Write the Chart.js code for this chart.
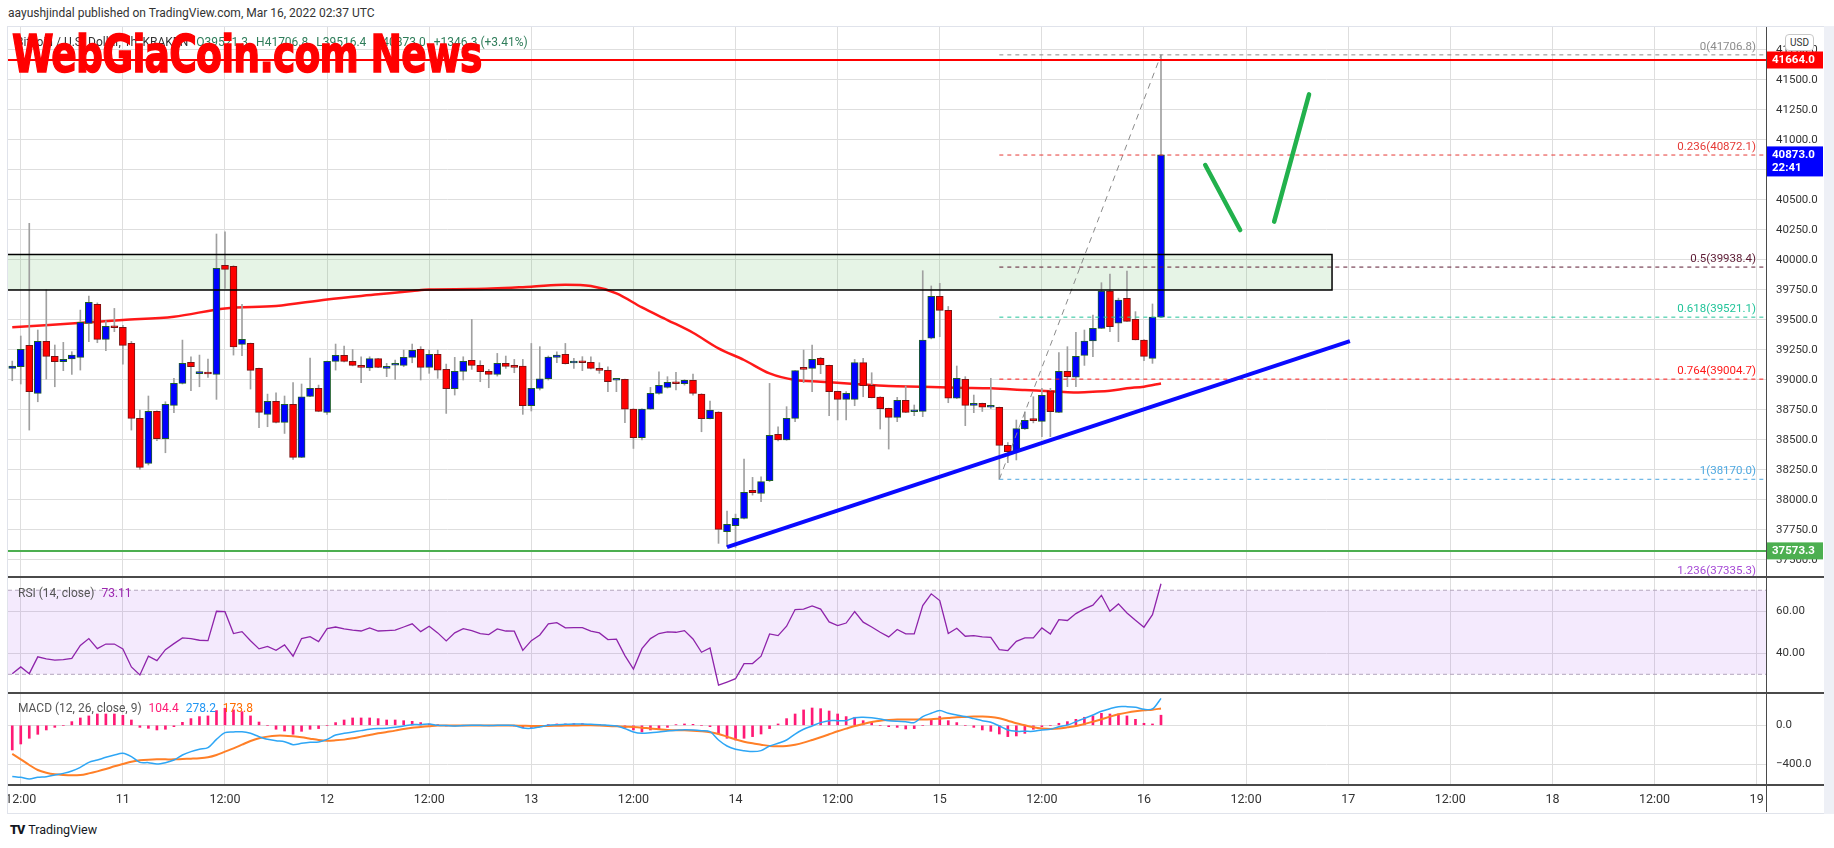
<!DOCTYPE html>
<html>
<head>
<meta charset="utf-8">
<title>BTCUSD 1h</title>
<script src="https://cdn.jsdelivr.net/npm/chart.js@4.4.1/dist/chart.umd.min.js"></script>
<style>
  html, body { margin: 0; padding: 0; background: #fff; }
  body { position: relative; width: 1834px; height: 848px; overflow: hidden; font-family: Roboto, "Open Sans", sans-serif; color: #333; }
  .abs { position: absolute; white-space: nowrap; }
  canvas { position: absolute; left: 8px; }
  #frame { left: 7px; top: 26px; width: 1818px; height: 788px; border: 1px solid #e0e3eb; box-sizing: border-box; }
  #strip { left: 1824px; top: 26px; width: 10px; height: 788px; background: #eef0f6; }
  .sep { left: 8px; width: 1816px; height: 2px; background: #4a4a4a; }
  #vaxis { left: 1766px; top: 27px; width: 1px; height: 785px; background: #4a4a4a; }
  #title { left: 8px; top: 6px; font-size: 12px; color: #333; }
  #legend { left: 16px; top: 35px; font-size: 12px; color: #333; }
  #legend b { font-weight: normal; color: #2f7d5a; margin-left: 5px; }
  #mark { left: 12px; top: 24px; font-family: "DejaVu Sans Condensed", "DejaVu Sans", sans-serif; font-weight: bold; font-size: 54px; color: #ff0000; -webkit-text-stroke: 1.5px #ff0000; transform-origin: 0 0; letter-spacing: -1px; }
  .pane { font-size: 12px; color: #555; }
  #usd { left: 1785px; top: 34px; width: 27px; height: 15px; border: 1px solid #c8c8c8; border-radius: 4px; background: #fff; font-size: 10px; line-height: 15px; text-align: center; color: #333; }
  #tv { left: 10px; top: 822px; font-size: 12.5px; color: #131722; }
  #tv span { font-weight: 900; margin-right: 4px; letter-spacing: -1px; }
</style>
</head>
<body>
<div class="abs" id="frame"></div>
<div class="abs" id="strip"></div>
<div class="abs" id="title">aayushjindal published on TradingView.com, Mar 16, 2022 02:37 UTC</div>

<canvas id="main" width="1816" height="550" style="top:27px"></canvas>
<canvas id="rsi" width="1816" height="116" style="top:577px"></canvas>
<canvas id="macd" width="1816" height="119" style="top:693px"></canvas>

<div class="abs sep" style="top:576px"></div>
<div class="abs sep" style="top:692px"></div>
<div class="abs sep" style="top:784px"></div>
<div class="abs" id="vaxis"></div>

<div class="abs" id="legend">Bitcoin / U.S. Dollar, 1h, KRAKEN <b>O39521.3</b> <b>H41706.8</b> <b>L39516.4</b> <b>C40873.0</b> <b>+1346.3 (+3.41%)</b></div>
<div class="abs pane" style="left:18px; top:586px">RSI (14, close) <span style="color:#9c27b0; margin-left:4px">73.11</span></div>
<div class="abs pane" style="left:18px; top:701px">MACD (12, 26, close, 9) <span style="color:#ff1a75; margin-left:4px">104.4</span> <span style="color:#2196f3; margin-left:4px">278.2</span> <span style="color:#ff6d00; margin-left:4px">173.8</span></div>
<div class="abs" id="usd">USD</div>
<div class="abs" id="mark">WebGiaCoin.com News</div>
<div class="abs" id="tv"><span>TV</span>TradingView</div>

<script>
// hours counted from Mar 10 00:00 UTC, first candle is Mar 10 11:00
const firstHour = 11;

const opens = [
  39094, 39108, 39286, 38886, 39319, 39194, 39150, 39172, 39186, 39469,
  39628, 39336, 39447, 39436, 39302, 38677, 38302, 38736, 38508, 38786,
  38969, 39144, 39050, 39052, 39044, 39953, 39944, 39294, 39302, 39094,
  38711, 38819, 38644, 38794, 38352, 38861, 38927, 38727, 39152, 39202,
  39152, 39119, 39097, 39175, 39094, 39120, 39119, 39186, 39252, 39102,
  39211, 39086, 38925, 39069, 39161, 39119, 39069, 39044, 39136, 39111,
  39114, 38783, 38927, 39008, 39186, 39211, 39139, 39145, 39144, 39094,
  39077, 38995, 39002, 38755, 38516, 38755, 38886, 38936, 38977, 38966,
  38994, 38880, 38675, 38730, 37733, 37783, 37844, 38077, 38052, 38158,
  38544, 38497, 38677, 39102, 39094, 39178, 39119, 38903, 38836, 38836,
  39142, 38953, 38856, 38761, 38686, 38828, 38733, 38736, 39345, 39695,
  39578, 38845, 39003, 38786, 38803, 38770, 38770, 38453, 38406, 38589,
  38675, 38653, 38908, 38728, 39070, 39020, 39203, 39322, 39428, 39739,
  39470, 39678, 39503, 39331, 39178, 39521.3
];
const highs = [
  39155, 39364, 40303, 39414, 39752, 39289, 39311, 39233, 39580, 39697,
  39640, 39491, 39594, 39452, 39319, 38747, 38864, 38740, 38816, 39011,
  39330, 39191, 39205, 39172, 40214, 40233, 39950, 39628, 39305, 39097,
  38880, 38891, 38864, 38975, 38964, 39180, 38955, 39155, 39297, 39280,
  39252, 39191, 39191, 39178, 39136, 39164, 39247, 39297, 39275, 39247,
  39247, 39130, 39186, 39191, 39502, 39158, 39086, 39219, 39197, 39169,
  39169, 39302, 39275, 39197, 39233, 39302, 39177, 39192, 39191, 39141,
  39108, 38997, 39005, 38758, 38758, 38936, 39066, 39025, 39061, 39000,
  39047, 38883, 38822, 38733, 37905, 37880, 38338, 38186, 38190, 38969,
  38608, 38775, 39075, 39247, 39289, 39185, 39122, 38905, 38900, 39169,
  39178, 39058, 38858, 38763, 38853, 38947, 38789, 39908, 39781, 39803,
  39610, 39114, 39025, 38872, 38805, 39011, 38772, 38475, 38664, 38733,
  38858, 38928, 38928, 39225, 39275, 39395, 39414, 39539, 39808, 39881,
  39680, 39906, 39567, 39335, 39631, 41706.8
];
const lows = [
  38991, 38964, 38580, 38816, 39005, 38941, 39075, 39044, 39080, 39316,
  39308, 39241, 39400, 39130, 38580, 38252, 38289, 38491, 38391, 38725,
  38964, 38908, 38941, 39019, 38836, 39761, 39205, 39200, 38922, 38600,
  38608, 38640, 38552, 38336, 38350, 38858, 38733, 38711, 39080, 39148,
  39115, 38975, 39075, 39100, 39025, 39002, 39108, 39141, 38997, 39053,
  39011, 38719, 38872, 38997, 39086, 38983, 38933, 39030, 39094, 39058,
  38711, 38739, 38914, 38997, 39141, 39130, 39094, 39075, 39090, 39053,
  38900, 38900, 38641, 38427, 38497, 38752, 38880, 38930, 38914, 38955,
  38870, 38566, 38672, 37636, 37608, 37602, 37840, 38038, 37983, 38150,
  38490, 38495, 38650, 38975, 38900, 39050, 38700, 38664, 38664, 38783,
  38858, 38848, 38589, 38422, 38650, 38725, 38700, 38692, 39340, 39358,
  38808, 38842, 38617, 38725, 38735, 38760, 38170, 38308, 38331, 38585,
  38640, 38525, 38525, 38725, 38942, 38942, 39119, 39192, 39425, 39400,
  39317, 39486, 39331, 39158, 39136, 39516.4
];
const closes = [
  39114, 39252, 38900, 39319, 39194, 39150, 39169, 39205, 39478, 39644,
  39336, 39444, 39433, 39286, 38677, 38269, 38736, 38508, 38794, 38969,
  39136, 39108, 39055, 39047, 39928, 39919, 39272, 39336, 39077, 38727,
  38819, 38644, 38794, 38352, 38858, 38927, 38736, 39152, 39202, 39152,
  39119, 39102, 39175, 39102, 39111, 39124, 39186, 39244, 39102, 39211,
  39080, 38925, 39069, 39152, 39119, 39066, 39044, 39136, 39111, 39102,
  38783, 38927, 39008, 39189, 39205, 39133, 39143, 39141, 39094, 39077,
  38983, 38999, 38755, 38516, 38755, 38886, 38952, 38977, 38966, 38994,
  38886, 38675, 38747, 37752, 37794, 37844, 38061, 38058, 38150, 38536,
  38497, 38677, 39075, 39086, 39169, 39122, 38900, 38836, 38886, 39142,
  38950, 38850, 38758, 38686, 38828, 38728, 38738, 39331, 39695, 39578,
  38845, 39011, 38786, 38803, 38770, 38775, 38453, 38400, 38592, 38661,
  38658, 38869, 38733, 39070, 39025, 39194, 39322, 39428, 39739, 39442,
  39664, 39486, 39331, 39194, 39521, 40873.0
];

// moving average, read at a few hours
const maHours = [11, 24, 30, 36, 42, 48, 54, 58, 60, 65, 72, 76, 79, 82, 85, 88, 91, 94, 97, 100,
  103, 106, 110, 114, 118, 122, 126, 130, 134, 136, 138, 140, 142, 144, 146];
const maValues = [39436, 39497, 39525, 39594, 39614, 39669, 39711, 39739, 39752, 39755, 39775, 39791, 39780, 39719,
  39602, 39497, 39391, 39261, 39164, 39052, 38997, 38983, 38964, 38947, 38942, 38933, 38928, 38914,
  38900, 38894, 38900, 38908, 38928, 38942, 38969];

const rsi = [
  30.3, 33.5, 30.3, 38.3, 37.3, 36.7, 37.0, 37.6, 43.7, 47.0,
  42.2, 44.4, 44.4, 42.1, 33.5, 29.7, 38.6, 36.5, 41.7, 44.6,
  47.3, 47.0, 46.2, 46.0, 60.0, 59.8, 49.4, 50.3, 46.0, 42.1,
  43.3, 41.4, 44.0, 38.6, 47.0, 47.9, 45.6, 51.7, 52.5, 51.6,
  51.0, 50.6, 52.1, 50.6, 50.8, 51.0, 52.5, 54.0, 50.3, 52.9,
  49.7, 45.9, 49.7, 51.7, 50.8, 49.4, 48.9, 51.6, 50.6, 50.5,
  41.4, 46.0, 48.7, 54.0, 54.6, 52.1, 52.2, 52.2, 50.5, 49.7,
  46.5, 46.7, 38.9, 32.5, 42.2, 47.0, 49.4, 50.2, 50.0, 50.8,
  46.8, 40.5, 42.5, 24.8, 26.3, 27.9, 35.1, 35.1, 38.6, 49.2,
  48.4, 52.9, 60.8, 61.0, 62.5, 61.0, 54.9, 53.2, 54.4, 59.8,
  54.8, 52.5, 50.0, 47.8, 51.3, 49.2, 49.2, 62.7, 68.3, 65.1,
  49.4, 51.9, 48.1, 48.4, 47.8, 47.6, 41.7, 41.3, 45.7, 47.3,
  47.3, 52.1, 49.2, 56.0, 55.6, 58.9, 61.1, 62.9, 67.6, 60.0,
  63.5, 59.2, 55.7, 52.4, 58.4, 73.11
];

const macd = [
  -528, -538, -555, -538, -531, -514, -497, -472, -434, -383,
  -359, -331, -307, -290, -324, -383, -386, -400, -386, -359,
  -307, -272, -248, -231, -145, -76, -69, -66, -83, -117,
  -145, -159, -169, -200, -186, -176, -172, -145, -100, -83,
  -69, -55, -41, -34, -31, -21, -7, 7, 7, 14,
  0, -3, -7, -3, 0, 0, -3, 0, 0, -3,
  -28, -31, -17, 0, 7, 10, 14, 14, 10, 7,
  0, -7, -34, -69, -83, -76, -69, -59, -52, -45,
  -48, -55, -66, -152, -214, -248, -262, -272, -262, -214,
  -186, -152, -90, -41, -7, 28, 48, 48, 48, 79,
  83, 79, 66, 48, 41, 38, 28, 90, 124, 152,
  124, 107, 90, 69, 48, 31, -7, -48, -62, -62,
  -62, -48, -41, -14, 3, 38, 72, 107, 145, 172,
  193, 193, 186, 166, 169, 278.2
];
const signal = [
  -295, -352, -410, -462, -490, -507, -514, -517, -514, -497,
  -476, -452, -424, -400, -376, -362, -355, -352, -352, -352,
  -348, -345, -341, -331, -307, -272, -238, -200, -162, -134,
  -117, -107, -107, -114, -124, -138, -152, -159, -155, -148,
  -134, -117, -100, -83, -69, -55, -38, -24, -17, -10,
  -3, -3, -3, -3, -2, -2, -2, -2, -2, -3,
  -5, -7, -7, -7, -5, -3, -2, 0, 0, -3,
  -7, -10, -14, -17, -24, -34, -41, -48, -52, -52,
  -55, -62, -72, -90, -117, -145, -169, -186, -200, -214,
  -217, -214, -200, -179, -152, -124, -93, -62, -34, -7,
  14, 34, 48, 55, 59, 59, 59, 59, 62, 69,
  76, 83, 86, 90, 90, 86, 72, 48, 21, 0,
  -21, -34, -38, -34, -21, -7, 14, 38, 62, 90,
  114, 131, 145, 155, 162, 173.8
];
const hist = [
  -255, -193, -134, -93, -48, -21, 0, 38, 76, 97,
  117, 117, 117, 103, 55, -21, -31, -48, -41, -14,
  31, 69, 90, 97, 152, 176, 159, 141, 97, 34,
  0, -41, -59, -93, -62, -41, -34, 0, 28, 55,
  76, 76, 76, 69, 55, 55, 48, 41, 28, 14,
  7, -7, -7, -3, 0, 0, -3, 0, 0, -7,
  -24, -21, -7, 7, 14, 14, 17, 17, 10, 10,
  -3, -7, -28, -48, -69, -48, -34, -21, 7, 14,
  10, 0, -14, -90, -134, -152, -134, -117, -90, -34,
  14, 69, 117, 159, 179, 172, 148, 117, 90, 83,
  48, 28, 0, -14, -21, -38, -34, 0, 55, 90,
  48, 28, 0, -21, -48, -62, -90, -117, -110, -83,
  -41, -14, 0, 21, 38, 62, 83, 97, 124, 117,
  117, 97, 62, 21, 14, 104.4
];

// time axis
const timeTicks = [12, 24, 36, 48, 60, 72, 84, 96, 108, 120, 132, 144, 156, 168, 180, 192, 204, 216];
const timeLabels = ['12:00', '11', '12:00', '12', '12:00', '13', '12:00', '14', '12:00', '15', '12:00', '16', '12:00', '17', '12:00', '18', '12:00', '19'];
const priceTicks = [37500, 37750, 38000, 38250, 38500, 38750, 39000, 39250, 39500, 39750, 40000, 40250, 40500, 40750, 41000, 41250, 41500, 41750];
const rsiTicks = [40, 60];
const macdTicks = [-400, 0];

// drawings
const resistance = 41664.0;
const support = 37573.3;
const zoneTop = 40044, zoneBottom = 39747, zoneEnd = 166.1;
const fibRatios = ['0', '0.236', '0.5', '0.618', '0.764', '1', '1.236'];
const fibPrices = [41706.8, 40872.1, 39938.4, 39521.1, 39004.7, 38170.0, 37335.3];
const fibStart = 127, fibEnd = 146;
const trendLine = [[95.0, 37605], [168.2, 39322]];
const arrowDown = [[151.2, 40789], [155.3, 40247]];
const arrowUp = [[159.3, 40317], [163.4, 41378]];
const rsiUpper = 70, rsiLower = 30;

const fibColors = ['#8c8c8c', '#e53935', '#5c1a33', '#22c49a', '#ff1a1a', '#4ea8e0', '#a64ad6'];
const gridColor = '#dedede';
const axisColor = '#4a4a4a';
const xMin = 10.5, xMax = 217.1;

Chart.defaults.font.family = 'Roboto, "Open Sans", sans-serif';
Chart.defaults.font.size = 11.5;
Chart.defaults.color = '#333';

const hours = opens.map((_, i) => firstHour + i);
const isUp = closes.map((c, i) => c >= opens[i]);

function timeAxis(showLabels) {
  return {
    type: 'linear', min: xMin, max: xMax, offset: false,
    afterBuildTicks: s => { s.ticks = timeTicks.map(v => ({ value: v })); },
    afterFit: s => { s.paddingLeft = 0; s.paddingRight = 0; s.height = showLabels ? 27 : 0; },
    grid: { color: gridColor, drawTicks: false, offset: false },
    border: { display: showLabels, color: axisColor, width: 1 },
    ticks: {
      display: showLabels, autoSkip: false, maxRotation: 0, minRotation: 0, padding: 7,
      font: { size: 12.5 },
      callback: (v, i) => timeLabels[i]
    }
  };
}

function valueAxis(min, max, ticks, fmt) {
  return {
    position: 'right', min: min, max: max,
    afterBuildTicks: s => { s.ticks = ticks.map(v => ({ value: v })); },
    afterFit: s => { s.width = 58; s.paddingTop = 0; s.paddingBottom = 0; },
    grid: { color: gridColor, drawTicks: false },
    border: { display: true, color: axisColor, width: 1 },
    ticks: { padding: 10, callback: fmt }
  };
}

function line(points, color, width, extra) {
  return Object.assign({
    type: 'line',
    data: points.map(p => ({ x: p[0], y: p[1] })),
    borderColor: color, borderWidth: width,
    pointRadius: 0, fill: false, tension: 0
  }, extra || {});
}

const baseOptions = {
  responsive: false, animation: false, events: [],
  layout: { padding: 0 },
  plugins: { legend: { display: false }, tooltip: { enabled: false } }
};

// fib labels and price tags on the axis
const mainLabels = {
  id: 'mainLabels',
  afterDraw(chart) {
    const { ctx, chartArea } = chart;
    const y = chart.scales.y;
    ctx.save();
    ctx.font = '11.5px Roboto, sans-serif';
    ctx.textAlign = 'right';
    ctx.textBaseline = 'middle';
    fibPrices.forEach((p, i) => {
      ctx.fillStyle = fibColors[i];
      ctx.fillText(fibRatios[i] + '(' + p.toFixed(1) + ')', chartArea.right - 10, y.getPixelForValue(p) - 8);
    });
    const tag = (val, color, lines) => {
      const py = y.getPixelForValue(val);
      ctx.fillStyle = color;
      ctx.fillRect(chartArea.right + 1, py - 8.5, 56, lines.length > 1 ? 30 : 17);
      ctx.fillStyle = '#fff';
      ctx.textAlign = 'left';
      ctx.font = 'bold 11.5px Roboto, sans-serif';
      lines.forEach((t, k) => ctx.fillText(t, chartArea.right + 6, py + k * 13.5));
    };
    tag(resistance, '#ff0000', [resistance.toFixed(1)]);
    tag(closes[closes.length - 1], '#0000ff', [closes[closes.length - 1].toFixed(1), '22:41']);
    tag(support, '#4caf50', [support.toFixed(1)]);
    ctx.restore();
  }
};

new Chart(document.getElementById('main'), {
  type: 'bar',
  data: {
    datasets: [
      line([[xMin, zoneTop], [zoneEnd, zoneTop]], 'rgba(0,0,0,0)', 0,
        { fill: { value: zoneBottom }, backgroundColor: 'rgba(76,175,80,0.14)', order: 20 }),
      line([[xMin, zoneTop], [zoneEnd, zoneTop], [zoneEnd, zoneBottom], [xMin, zoneBottom]], '#000', 1.5, { order: 2 }),
      {
        type: 'line', data: maHours.map((h, i) => ({ x: h, y: maValues[i] })),
        borderColor: 'rgba(255,0,0,0.9)', borderWidth: 2.5, pointRadius: 0,
        cubicInterpolationMode: 'monotone', order: 9
      },
      {
        type: 'bar', data: hours.map((h, i) => ({ x: h, y: [lows[i], highs[i]] })),
        backgroundColor: '#a0a0a0', barThickness: 1, grouped: false, order: 8
      },
      {
        type: 'bar', data: hours.map((h, i) => ({ x: h, y: [opens[i], closes[i]] })),
        backgroundColor: isUp.map(u => u ? '#0000ff' : '#ff0000'),
        borderColor: isUp.map(u => u ? '#1d5e2a' : '#7a1212'),
        borderWidth: 1, borderSkipped: false, barThickness: 7, minBarLength: 2, grouped: false, order: 7
      },
      ...fibPrices.map((p, i) => line([[fibStart, p], [xMax, p]], fibColors[i], 1, { borderDash: [4, 4], order: 5 })),
      line([[fibStart, fibPrices[5]], [fibEnd, fibPrices[0]]], '#8a8a8a', 1, { borderDash: [6, 5], order: 5 }),
      line([[xMin, resistance], [xMax, resistance]], '#ff0000', 2, { order: 3 }),
      line([[xMin, support], [xMax, support]], '#4caf50', 2, { order: 3 }),
      line(trendLine, '#0a0aff', 4, { order: 1 }),
      line(arrowDown, '#22b14c', 4.5, { borderCapStyle: 'round', order: 1 }),
      line(arrowUp, '#22b14c', 4.5, { borderCapStyle: 'round', order: 1 })
    ]
  },
  options: Object.assign({}, baseOptions, {
    scales: {
      x: timeAxis(false),
      y: valueAxis(37355.7, 41939, priceTicks, v => Number(v).toFixed(1))
    }
  }),
  plugins: [mainLabels]
});

new Chart(document.getElementById('rsi'), {
  type: 'line',
  data: {
    datasets: [
      line([[xMin, rsiUpper], [xMax, rsiUpper]], '#b3a6bd', 1,
        { borderDash: [4, 3], fill: { value: rsiLower }, backgroundColor: 'rgba(156,60,240,0.11)', order: 5 }),
      line([[xMin, rsiLower], [xMax, rsiLower]], '#b3a6bd', 1, { borderDash: [4, 3], order: 4 }),
      {
        type: 'line', data: hours.map((h, i) => ({ x: h, y: rsi[i] })),
        borderColor: '#8e24aa', borderWidth: 1.3, pointRadius: 0, tension: 0, order: 1
      }
    ]
  },
  options: Object.assign({}, baseOptions, {
    scales: {
      x: timeAxis(false),
      y: valueAxis(21.1, 76.3, rsiTicks, v => Number(v).toFixed(2))
    }
  })
});

new Chart(document.getElementById('macd'), {
  type: 'bar',
  data: {
    datasets: [
      {
        type: 'bar', data: hours.map((h, i) => ({ x: h, y: hist[i] })),
        backgroundColor: '#ff1a75', barThickness: 2, grouped: false, order: 3
      },
      {
        type: 'line', data: hours.map((h, i) => ({ x: h, y: signal[i] })),
        borderColor: '#ff7f27', borderWidth: 2, pointRadius: 0, tension: 0.3, order: 2
      },
      {
        type: 'line', data: hours.map((h, i) => ({ x: h, y: macd[i] })),
        borderColor: '#2ea6f5', borderWidth: 1.5, pointRadius: 0, tension: 0.3, order: 1
      }
    ]
  },
  options: Object.assign({}, baseOptions, {
    scales: {
      x: timeAxis(true),
      y: valueAxis(-617, 334, macdTicks, v => (v < 0 ? '\u2212' + Math.abs(v).toFixed(1) : Number(v).toFixed(1)))
    }
  })
});

// fit the watermark to its width in the picture
const mark = document.getElementById('mark');
mark.style.transform = 'scale(' + (470 / mark.offsetWidth) + ', 0.95)';
</script>
</body>
</html>
